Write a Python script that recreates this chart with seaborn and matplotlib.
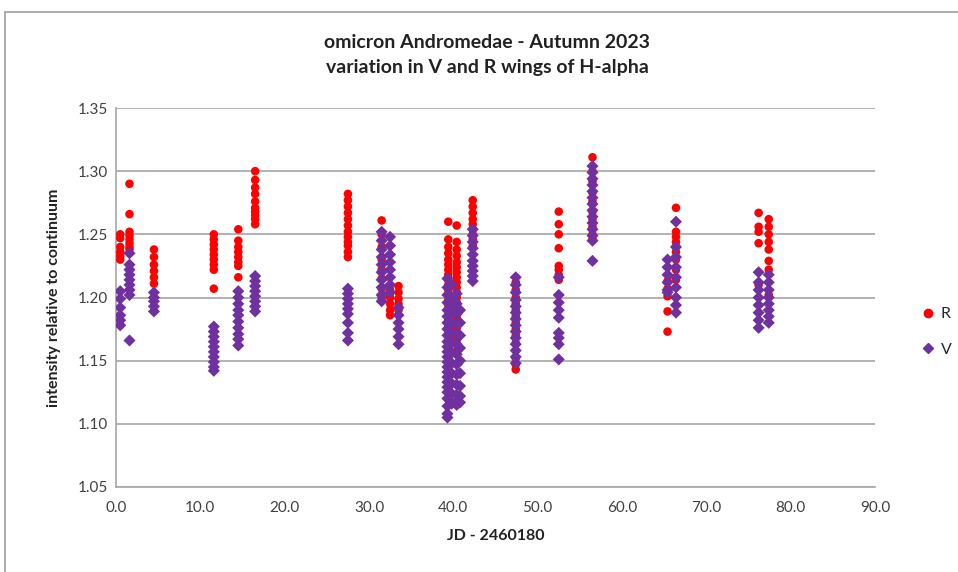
import matplotlib
matplotlib.use("Agg")
import matplotlib.pyplot as plt
import seaborn as sns
import pandas as pd
from matplotlib.lines import Line2D

# ---- data ----
R_jd = (
    [0.5] * 6 + [1.6] * 8 + [4.5] * 6 + [11.6] * 9 + [14.5] * 8 + [16.5] * 10
    + [27.5] * 12 + [31.5] * 8 + [32.5] * 5 + [33.5] * 5
    + [39.4] * 23 + [40.4] * 22 + [42.3] * 9 + [47.4] * 14 + [52.5] * 8
    + [56.5] * 10 + [65.4] * 5 + [66.4] * 9 + [76.2] * 5 + [77.4] * 8
)
R_val = (
    [1.250, 1.247, 1.240, 1.236, 1.233, 1.230]
    + [1.290, 1.266, 1.252, 1.249, 1.246, 1.243, 1.240, 1.238]
    + [1.238, 1.232, 1.226, 1.221, 1.216, 1.211]
    + [1.250, 1.246, 1.242, 1.238, 1.234, 1.230, 1.226, 1.222, 1.207]
    + [1.254, 1.245, 1.240, 1.236, 1.232, 1.228, 1.225, 1.216]
    + [1.300, 1.293, 1.287, 1.282, 1.276, 1.271, 1.268, 1.265, 1.262, 1.258]
    + [1.282, 1.277, 1.272, 1.267, 1.262, 1.257, 1.252, 1.248, 1.244, 1.241, 1.236, 1.232]
    + [1.261, 1.250, 1.240, 1.230, 1.222, 1.215, 1.207, 1.200]
    + [1.206, 1.200, 1.195, 1.190, 1.186]
    + [1.209, 1.204, 1.199, 1.195, 1.190]
    + [1.260, 1.246, 1.240, 1.235, 1.230, 1.226, 1.222, 1.218, 1.214, 1.210, 1.206, 1.202,
       1.198, 1.194, 1.190, 1.186, 1.182, 1.178, 1.174, 1.170, 1.166, 1.162, 1.158]
    + [1.257, 1.244, 1.238, 1.233, 1.228, 1.224, 1.220, 1.216, 1.212, 1.208, 1.204, 1.200,
       1.196, 1.192, 1.188, 1.184, 1.180, 1.176, 1.172, 1.168, 1.164, 1.158]
    + [1.277, 1.272, 1.267, 1.262, 1.258, 1.254, 1.250, 1.246, 1.241]
    + [1.212, 1.206, 1.200, 1.195, 1.190, 1.185, 1.180, 1.175, 1.170, 1.164, 1.158, 1.152, 1.147, 1.143]
    + [1.268, 1.258, 1.250, 1.239, 1.225, 1.222, 1.218, 1.214]
    + [1.311, 1.300, 1.292, 1.283, 1.276, 1.268, 1.262, 1.256, 1.250, 1.246]
    + [1.213, 1.207, 1.201, 1.189, 1.173]
    + [1.271, 1.252, 1.248, 1.244, 1.240, 1.236, 1.230, 1.222, 1.214]
    + [1.267, 1.256, 1.252, 1.243, 1.210]
    + [1.262, 1.256, 1.250, 1.244, 1.238, 1.229, 1.222, 1.202]
)
V_jd = (
    [0.5] * 6 + [1.6] * 9 + [4.5] * 5 + [11.6] * 10 + [14.5] * 10 + [16.5] * 8
    + [27.5] * 9 + [31.5] * 10 + [32.5] * 8 + [33.5] * 6
    + [39.3] * 24 + [39.8] * 12 + [40.4] * 13 + [40.8] * 9 + [42.3] * 10
    + [47.4] * 14 + [52.5] * 9 + [56.5] * 14 + [65.4] * 6 + [66.4] * 9
    + [76.2] * 8 + [77.4] * 8
)
V_val = (
    [1.205, 1.199, 1.192, 1.186, 1.182, 1.178]
    + [1.235, 1.226, 1.222, 1.218, 1.214, 1.210, 1.206, 1.202, 1.166]
    + [1.204, 1.200, 1.197, 1.193, 1.189]
    + [1.177, 1.173, 1.169, 1.165, 1.161, 1.157, 1.153, 1.149, 1.145, 1.142]
    + [1.205, 1.200, 1.195, 1.190, 1.186, 1.181, 1.176, 1.171, 1.167, 1.162]
    + [1.217, 1.213, 1.209, 1.205, 1.201, 1.197, 1.193, 1.189]
    + [1.207, 1.203, 1.199, 1.195, 1.191, 1.187, 1.180, 1.172, 1.166]
    + [1.252, 1.245, 1.238, 1.232, 1.226, 1.220, 1.214, 1.208, 1.202, 1.197]
    + [1.248, 1.241, 1.234, 1.228, 1.222, 1.216, 1.210, 1.204]
    + [1.192, 1.186, 1.180, 1.175, 1.169, 1.163]
    + [1.215, 1.208, 1.202, 1.196, 1.190, 1.185, 1.180, 1.175, 1.170, 1.165, 1.161, 1.157,
       1.153, 1.149, 1.145, 1.141, 1.137, 1.133, 1.129, 1.125, 1.120, 1.114, 1.108, 1.105]
    + [1.210, 1.200, 1.190, 1.180, 1.172, 1.164, 1.156, 1.148, 1.140, 1.132, 1.124, 1.116]
    + [1.203, 1.195, 1.187, 1.179, 1.171, 1.163, 1.155, 1.147, 1.139, 1.131, 1.123, 1.118, 1.115]
    + [1.190, 1.180, 1.170, 1.160, 1.150, 1.140, 1.130, 1.122, 1.117]
    + [1.254, 1.249, 1.244, 1.239, 1.234, 1.229, 1.225, 1.221, 1.217, 1.213]
    + [1.216, 1.210, 1.204, 1.198, 1.193, 1.188, 1.183, 1.178, 1.173, 1.168, 1.163, 1.158, 1.153, 1.148]
    + [1.216, 1.202, 1.196, 1.190, 1.184, 1.172, 1.168, 1.163, 1.151]
    + [1.304, 1.299, 1.294, 1.289, 1.284, 1.279, 1.274, 1.269, 1.264, 1.259, 1.254, 1.249, 1.245, 1.229]
    + [1.230, 1.224, 1.218, 1.212, 1.206, 1.204]
    + [1.260, 1.240, 1.232, 1.224, 1.216, 1.208, 1.200, 1.194, 1.188]
    + [1.220, 1.212, 1.206, 1.200, 1.194, 1.188, 1.182, 1.176]
    + [1.218, 1.212, 1.206, 1.200, 1.195, 1.190, 1.185, 1.180]
)
series_names = ["R", "V"]
x_ticks = [0, 10, 20, 30, 40, 50, 60, 70, 80, 90]
y_ticks = [1.05, 1.10, 1.15, 1.20, 1.25, 1.30, 1.35]
title = "omicron Andromedae - Autumn 2023\nvariation in V and R wings of H-alpha"
x_label = "JD - 2460180"
y_label = "intensity relative to continuum"

df = pd.DataFrame({
    "jd": R_jd + V_jd,
    "val": R_val + V_val,
    "series": ["R"] * len(R_jd) + ["V"] * len(V_jd),
})

sns.set_theme(style="white")
plt.rcParams["font.family"] = ["Lato", "DejaVu Sans"]

fig = plt.figure(figsize=(9.58, 5.72), dpi=100)
ax = fig.add_axes([116 / 958, 1 - 487 / 572, (875 - 116) / 958, (487 - 108) / 572])

colors = {"R": "#FF0000", "V": "#7030A0"}
markers = {"R": "o", "V": "D"}
sns.scatterplot(data=df, x="jd", y="val", hue="series", style="series",
                palette=colors, markers=markers, s=38, linewidth=0,
                ax=ax, legend=False, zorder=3)

ax.set_xlim(0, 90)
ax.set_ylim(1.05, 1.35)
ax.set_xticks(x_ticks)
ax.set_xticklabels([f"{t:.1f}" for t in x_ticks])
ax.set_yticks(y_ticks)
ax.set_yticklabels([f"{t:.2f}" for t in y_ticks])
ax.yaxis.grid(True, color="#A6A6A6", linewidth=1.2)
ax.xaxis.grid(False)
ax.set_axisbelow(True)
for side in ["top", "right"]:
    ax.spines[side].set_visible(False)
for side in ["left", "bottom"]:
    ax.spines[side].set_color("#A6A6A6")
    ax.spines[side].set_linewidth(1.2)
ax.tick_params(axis="both", labelsize=11, colors="#404040", length=0, pad=6)
ax.tick_params(axis="x", length=4, direction="out", color="#A6A6A6")
ax.set_xlabel(x_label, fontsize=11.5, fontweight="bold", labelpad=10, color="#222222")
ax.set_ylabel(y_label, fontsize=11.5, fontweight="bold", labelpad=12, color="#222222")

fig.text(487 / 958, 1 - 55 / 572, title, ha="center", va="center",
         fontsize=14, fontweight="bold", linespacing=1.55, color="#222222")

handles = [Line2D([], [], marker=markers[n], color=colors[n], linestyle="none",
                  markersize=6 if n == "R" else 5.5) for n in series_names]
fig.legend(handles, series_names, loc="center left",
           bbox_to_anchor=(920 / 958, 1 - 332 / 572), frameon=False,
           borderaxespad=0, borderpad=0,
           fontsize=11.5, labelspacing=1.35, handletextpad=0.3, handlelength=1.0)

# outer chart border
fig.add_artist(Line2D([5 / 958, 1], [1 - 12 / 572, 1 - 12 / 572],
                      transform=fig.transFigure, color="#A0A0A0", linewidth=1.2))
fig.add_artist(Line2D([5 / 958, 5 / 958], [0, 1 - 12 / 572],
                      transform=fig.transFigure, color="#A0A0A0", linewidth=1.2))

fig.savefig("out.png", dpi=100)
